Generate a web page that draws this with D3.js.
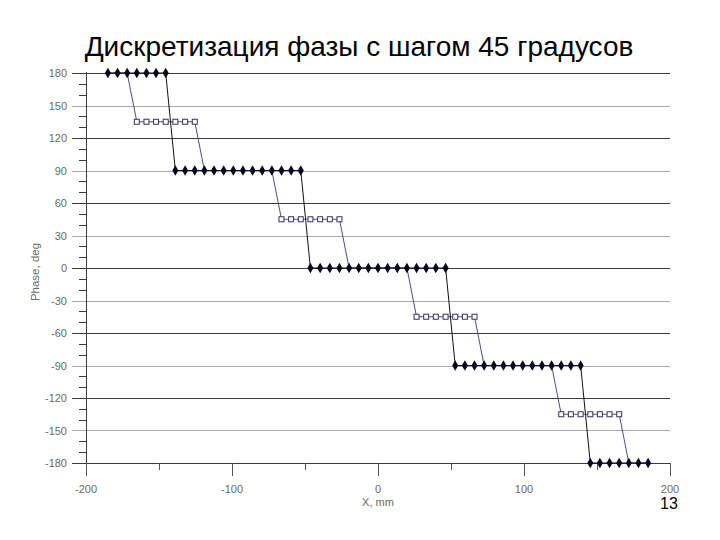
<!DOCTYPE html>
<html>
<head>
<meta charset="utf-8">
<script src="https://cdn.jsdelivr.net/npm/d3@7"></script>
<style>
  body { margin: 0; background: #fff; }
  svg { display: block; }
  text { font-family: "Liberation Sans", Arial, sans-serif; }
</style>
</head>
<body>
<svg id="chart" width="720" height="540"></svg>
<script>
// ---- data ----
const titleText = "Дискретизация фазы с шагом 45 градусов";
const xLabel = "X, mm";
const yLabel = "Phase, deg";
const pageNumber = "13";

const xTicks = [-200, -100, 0, 100, 200];
const xMinorTicks = [-150, -50, 50, 150];
const yTicks = [180, 150, 120, 90, 60, 30, 0, -30, -60, -90, -120, -150, -180];
const yMinorTicks = [170, 160, 140, 130, 110, 100, 80, 70, 50, 40, 20, 10,
  -10, -20, -40, -50, -70, -80, -100, -110, -130, -140, -160, -170];

const xValues = [
  -185.0, -178.4, -171.8, -165.2, -158.6, -152.0, -145.4, -138.8, -132.1, -125.5,
  -118.9, -112.3, -105.7, -99.1, -92.5, -85.9, -79.3, -72.7, -66.1, -59.5,
  -52.9, -46.3, -39.6, -33.0, -26.4, -19.8, -13.2, -6.6, 0.0, 6.6,
  13.2, 19.8, 26.4, 33.0, 39.6, 46.3, 52.9, 59.5, 66.1, 72.7,
  79.3, 85.9, 92.5, 99.1, 105.7, 112.3, 118.9, 125.5, 132.1, 138.8,
  145.4, 152.0, 158.6, 165.2, 171.8, 178.4, 185.0
];

// 90-degree quantisation (black diamonds)
const phase90 = [
  180, 180, 180, 180, 180, 180, 180,
  90, 90, 90, 90, 90, 90, 90, 90, 90, 90, 90, 90, 90, 90,
  0, 0, 0, 0, 0, 0, 0, 0, 0, 0, 0, 0, 0, 0, 0,
  -90, -90, -90, -90, -90, -90, -90, -90, -90, -90, -90, -90, -90, -90,
  -180, -180, -180, -180, -180, -180, -180
];

// 45-degree quantisation (blue squares)
const phase45 = [
  180, 180, 180,
  135, 135, 135, 135, 135, 135, 135,
  90, 90, 90, 90, 90, 90, 90, 90,
  45, 45, 45, 45, 45, 45, 45,
  0, 0, 0, 0, 0, 0, 0,
  -45, -45, -45, -45, -45, -45, -45,
  -90, -90, -90, -90, -90, -90, -90, -90,
  -135, -135, -135, -135, -135, -135, -135,
  -180, -180, -180
];

// ---- drawing ----
const svg = d3.select("#chart");
const plotL = 86, plotR = 670, plotT = 73, plotB = 463;
const x = d3.scaleLinear().domain([-200, 200]).range([plotL, plotR]);
const y = d3.scaleLinear().domain([-180, 180]).range([plotB, plotT]);

const dark = "#3a3a3a", light = "#a8a8a8", labelColor = "#6a6a6a";

// title
svg.append("text")
  .attr("x", 359).attr("y", 56)
  .attr("text-anchor", "middle")
  .attr("font-size", 28)
  .attr("fill", "#000")
  .text(titleText);

// horizontal gridlines + major y ticks
const gridG = svg.append("g");
yTicks.forEach((t, i) => {
  gridG.append("line")
    .attr("x1", plotL - 14).attr("x2", plotR)
    .attr("y1", Math.round(y(t)) + 0.5).attr("y2", Math.round(y(t)) + 0.5)
    .attr("stroke", i % 2 === 0 ? dark : light)
    .attr("stroke-width", 1);
});
// minor y ticks
yMinorTicks.forEach(t => {
  gridG.append("line")
    .attr("x1", plotL - 7).attr("x2", plotL)
    .attr("y1", Math.round(y(t)) + 0.5).attr("y2", Math.round(y(t)) + 0.5)
    .attr("stroke", dark).attr("stroke-width", 1);
});
// y axis line
gridG.append("line")
  .attr("x1", plotL + 0.5).attr("x2", plotL + 0.5)
  .attr("y1", plotT - 1).attr("y2", plotB + 10)
  .attr("stroke", dark).attr("stroke-width", 1);

// x axis ticks
xTicks.forEach(t => {
  gridG.append("line")
    .attr("x1", Math.round(x(t)) + 0.5).attr("x2", Math.round(x(t)) + 0.5)
    .attr("y1", plotB).attr("y2", plotB + 13)
    .attr("stroke", "#555").attr("stroke-width", 1);
});
xMinorTicks.forEach(t => {
  gridG.append("line")
    .attr("x1", Math.round(x(t)) + 0.5).attr("x2", Math.round(x(t)) + 0.5)
    .attr("y1", plotB).attr("y2", plotB + 7)
    .attr("stroke", "#555").attr("stroke-width", 1);
});

// tick labels
svg.append("g").selectAll("text").data(yTicks).join("text")
  .attr("x", 67).attr("y", d => y(d) + 4)
  .attr("text-anchor", "end")
  .attr("font-size", 11)
  .attr("fill", labelColor)
  .text(d => d);

svg.append("g").selectAll("text").data(xTicks).join("text")
  .attr("x", d => x(d)).attr("y", 493)
  .attr("text-anchor", "middle")
  .attr("font-size", 11)
  .attr("fill", labelColor)
  .text(d => d);

// axis titles
svg.append("text")
  .attr("x", x(0)).attr("y", 506)
  .attr("text-anchor", "middle")
  .attr("font-size", 11)
  .attr("fill", labelColor)
  .text(xLabel);

svg.append("text")
  .attr("transform", `translate(39, ${y(0) + 4}) rotate(-90)`)
  .attr("text-anchor", "middle")
  .attr("font-size", 11.5)
  .attr("fill", labelColor)
  .text(yLabel);

// page number
svg.append("text")
  .attr("x", 669).attr("y", 509)
  .attr("text-anchor", "middle")
  .attr("font-size", 16)
  .attr("fill", "#000")
  .text(pageNumber);

// series
const pts45 = xValues.map((v, i) => ({ x: v, y: phase45[i], same: phase45[i] === phase90[i] }));
const pts90 = xValues.map((v, i) => ({ x: v, y: phase90[i] }));

const line = d3.line().x(d => x(d.x)).y(d => y(d.y));

svg.append("path")
  .datum(pts45)
  .attr("d", line)
  .attr("fill", "none")
  .attr("stroke", "#4b4b99")
  .attr("stroke-width", 1);

svg.append("g").selectAll("rect").data(pts45.filter(d => !d.same)).join("rect")
  .attr("x", d => x(d.x) - 2.5).attr("y", d => y(d.y) - 2.5)
  .attr("width", 5).attr("height", 5)
  .attr("fill", "#fff")
  .attr("stroke", "#33335a")
  .attr("stroke-width", 1);

svg.append("path")
  .datum(pts90)
  .attr("d", line)
  .attr("fill", "none")
  .attr("stroke", "#111")
  .attr("stroke-width", 1);

svg.append("g").selectAll("path").data(pts90).join("path")
  .attr("transform", d => `translate(${x(d.x)},${y(d.y)})`)
  .attr("d", d3.symbol().type(d3.symbolDiamond).size(32))
  .attr("fill", "#050520");
</script>
</body>
</html>
